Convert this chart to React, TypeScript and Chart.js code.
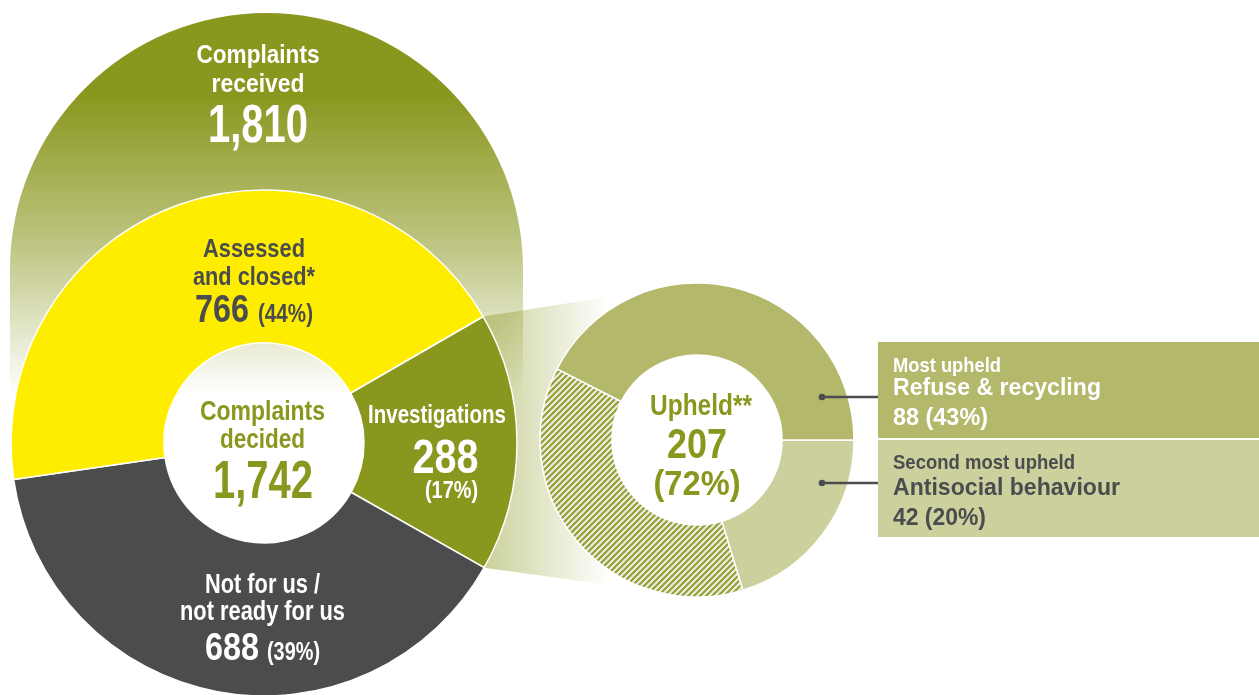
import React, { useEffect, useRef } from "react";
import { Chart, registerables } from "chart.js";
Chart.register(...registerables);

const W = 1259;
const H = 695;

// ---- data ----
const receivedTotal = 1810;
const decidedLabels = ["Investigations", "Not for us / not ready for us", "Assessed and closed*"];
const decidedValues = [288, 688, 766];
const decidedColors = ["#8A971E", "#4B4C4E", "#FFED00"];

const upheldLabels = ["Antisocial behaviour", "Other upheld", "Refuse & recycling"];
const upheldValues = [42, 77, 88];

const OLIVE = "#8A971E";
const DARK = "#4B4C4E";
const WHITE = "#FFFFFF";
const BOX1 = "#B3B86B";
const BOX2 = "#CCD09C";

const BIG = { cx: 264, cy: 443, r: 253, cut: 100 };
const SMALL = { cx: 697, cy: 440, r: 157, cut: 85 };

const sum = (a: number[]) => a.reduce((s, v) => s + v, 0);
const fmt = (n: number) => n.toLocaleString("en-GB");
const pct = (v: number, t: number) => Math.round((v / t) * 100);

const FONT = '"Liberation Sans", Arial, sans-serif';

function fitText(
  ctx: CanvasRenderingContext2D,
  s: string,
  x: number,
  y: number,
  cap: number,
  width: number,
  color: string,
  align: "left" | "center" = "center"
) {
  const size = cap / 0.716;
  ctx.save();
  ctx.font = `bold ${size}px ${FONT}`;
  ctx.textAlign = "left";
  ctx.textBaseline = "alphabetic";
  const w = ctx.measureText(s).width;
  const sx = width / w;
  const left = align === "center" ? x - width / 2 : x;
  ctx.translate(left, y);
  ctx.scale(sx, 1);
  ctx.fillStyle = color;
  ctx.fillText(s, 0, 0);
  ctx.restore();
}

function makeHatch(): CanvasPattern | string {
  const c = document.createElement("canvas");
  const s = 6;
  c.width = s;
  c.height = s;
  const x = c.getContext("2d");
  if (!x) return "#ddd";
  x.fillStyle = "#EDEEE8";
  x.fillRect(0, 0, s, s);
  x.strokeStyle = "#95A030";
  x.lineWidth = 2.2;
  x.beginPath();
  x.moveTo(-1, s + 1);
  x.lineTo(s + 1, -1);
  x.moveTo(-1, 1);
  x.lineTo(1, -1);
  x.moveTo(s - 1, s + 1);
  x.lineTo(s + 1, s - 1);
  x.stroke();
  const p = x.createPattern(c, "repeat");
  return p || "#ddd";
}

export default function App() {
  const c1 = useRef<HTMLCanvasElement>(null);
  const c2 = useRef<HTMLCanvasElement>(null);

  useEffect(() => {
    document.body.style.margin = "0";
    const decidedTotal = sum(decidedValues);
    const upheldTotal = sum(upheldValues);

    const bigPlugin = {
      id: "bigDecor",
      beforeDatasetsDraw(chart: any) {
        const ctx: CanvasRenderingContext2D = chart.ctx;
        const arc: any = chart.getDatasetMeta(0).data[0];
        ctx.save();
        // Complaints received backdrop
        const L = 10, R = 523, top = 13;
        const rx = (R - L) / 2;
        const cxs = (L + R) / 2;
        const cys = top + rx;
        ctx.beginPath();
        ctx.moveTo(L, H);
        ctx.lineTo(L, cys);
        ctx.arc(cxs, cys, rx, Math.PI, 2 * Math.PI);
        ctx.lineTo(R, H);
        ctx.closePath();
        const g = ctx.createLinearGradient(0, 95, 0, 395);
        g.addColorStop(0, "rgb(138,151,30)");
        g.addColorStop(0.5, "rgb(190,197,130)");
        g.addColorStop(1, "rgb(255,255,255)");
        ctx.fillStyle = g;
        ctx.fill();
        // connector to upheld doughnut
        const p1 = [arc.x + arc.outerRadius * Math.cos(arc.startAngle), arc.y + arc.outerRadius * Math.sin(arc.startAngle)];
        const p2 = [arc.x + arc.outerRadius * Math.cos(arc.endAngle), arc.y + arc.outerRadius * Math.sin(arc.endAngle)];
        ctx.beginPath();
        ctx.moveTo(p1[0], p1[1]);
        ctx.lineTo(SMALL.cx, SMALL.cy - SMALL.r);
        ctx.lineTo(SMALL.cx, SMALL.cy + SMALL.r);
        ctx.lineTo(p2[0], p2[1]);
        ctx.closePath();
        const g2 = ctx.createLinearGradient(p1[0], 0, 610, 0);
        g2.addColorStop(0, "rgba(138,151,30,0.45)");
        g2.addColorStop(1, "rgba(138,151,30,0)");
        ctx.fillStyle = g2;
        ctx.fill();
        ctx.restore();
      },
      afterDatasetsDraw(chart: any) {
        const ctx: CanvasRenderingContext2D = chart.ctx;
        // received
        fitText(ctx, "Complaints", 258, 63, 18.3, 123, WHITE);
        fitText(ctx, "received", 258, 92, 18.3, 93, WHITE);
        fitText(ctx, fmt(receivedTotal), 258, 142, 38.3, 100, WHITE);
        // assessed and closed
        fitText(ctx, "Assessed", 254, 257, 18.3, 102, DARK);
        fitText(ctx, "and closed*", 254, 285, 18.3, 122, DARK);
        fitText(ctx, String(decidedValues[2]), 195, 322, 28.3, 54, DARK, "left");
        fitText(ctx, `(${pct(decidedValues[2], decidedTotal)}%)`, 258, 322, 19, 55, DARK, "left");
        // centre
        fitText(ctx, "Complaints", 262.5, 419.5, 19.3, 125, OLIVE);
        fitText(ctx, "decided", 262.5, 448, 19.3, 85, OLIVE);
        fitText(ctx, fmt(decidedTotal), 263, 498, 38.3, 100, OLIVE);
        // investigations
        fitText(ctx, "Investigations", 437, 423, 18.3, 138, WHITE);
        fitText(ctx, String(decidedValues[0]), 445.5, 473, 34.3, 66, WHITE);
        fitText(ctx, `(${pct(decidedValues[0], decidedTotal)}%)`, 451.5, 498, 17, 53, WHITE);
        // not for us
        fitText(ctx, "Not for us /", 262.5, 593, 19.3, 115, WHITE);
        fitText(ctx, "not ready for us", 262.5, 620, 19.3, 165, WHITE);
        fitText(ctx, String(decidedValues[1]), 205, 659.5, 27.7, 54, WHITE, "left");
        fitText(ctx, `(${pct(decidedValues[1], decidedTotal)}%)`, 267, 659.5, 19, 53, WHITE, "left");
      },
    };

    const chart1 = new Chart(c1.current as HTMLCanvasElement, {
      type: "doughnut",
      data: {
        labels: decidedLabels,
        datasets: [
          {
            data: decidedValues,
            backgroundColor: decidedColors,
            borderColor: WHITE,
            borderWidth: 1.5,
            radius: BIG.r,
            cutout: `${(BIG.cut / BIG.r) * 100}%`,
            clip: false,
          } as any,
        ],
      },
      options: {
        animation: false,
        responsive: false,
        devicePixelRatio: 1,
        rotation: 60,
        events: [],
        layout: { padding: { top: 2 * BIG.cy - H, bottom: 0, left: 0, right: W - 2 * BIG.cx } },
        plugins: { legend: { display: false }, tooltip: { enabled: false } },
      } as any,
      plugins: [bigPlugin],
    });

    const smallPlugin = {
      id: "smallDecor",
      afterDatasetsDraw(chart: any) {
        const ctx: CanvasRenderingContext2D = chart.ctx;
        fitText(ctx, "Upheld**", 701, 415, 21.7, 102, OLIVE);
        fitText(ctx, String(upheldTotal), 697, 458.3, 30, 60, OLIVE);
        fitText(ctx, `(${pct(upheldTotal, decidedValues[0])}%)`, 697, 495, 25, 87, OLIVE);

        // boxes
        const bx = 878;
        ctx.save();
        ctx.fillStyle = BOX1;
        ctx.fillRect(bx, 342, W - bx, 96);
        ctx.fillStyle = BOX2;
        ctx.fillRect(bx, 440, W - bx, 97);
        // connectors
        ctx.strokeStyle = DARK;
        ctx.fillStyle = DARK;
        ctx.lineWidth = 2.5;
        const dots = [
          [SMALL.cx + 125, SMALL.cy - 43],
          [SMALL.cx + 125, SMALL.cy + 43],
        ];
        dots.forEach(([dx, dy]) => {
          ctx.beginPath();
          ctx.moveTo(dx, dy);
          ctx.lineTo(bx, dy);
          ctx.stroke();
          ctx.beginPath();
          ctx.arc(dx, dy, 3.3, 0, Math.PI * 2);
          ctx.fill();
        });
        ctx.restore();

        fitText(ctx, "Most upheld", 893, 371.7, 15, 108, WHITE, "left");
        fitText(ctx, upheldLabels[2], 893, 395, 17.5, 208, WHITE, "left");
        fitText(ctx, `${upheldValues[2]} (${pct(upheldValues[2], upheldTotal)}%)`, 893, 424.5, 17.5, 95, WHITE, "left");
        fitText(ctx, "Second most upheld", 893, 469, 15, 182, DARK, "left");
        fitText(ctx, upheldLabels[0], 893, 495, 17.5, 227, DARK, "left");
        fitText(ctx, `${upheldValues[0]} (${pct(upheldValues[0], upheldTotal)}%)`, 893, 525, 17.5, 93, DARK, "left");
      },
    };

    const chart2 = new Chart(c2.current as HTMLCanvasElement, {
      type: "doughnut",
      data: {
        labels: upheldLabels,
        datasets: [
          {
            data: upheldValues,
            backgroundColor: [BOX2, makeHatch(), BOX1],
            borderColor: WHITE,
            borderWidth: 1.5,
            radius: SMALL.r,
            cutout: `${(SMALL.cut / SMALL.r) * 100}%`,
            clip: false,
          } as any,
        ],
      },
      options: {
        animation: false,
        responsive: false,
        devicePixelRatio: 1,
        rotation: 90,
        events: [],
        layout: {
          padding: {
            top: SMALL.cy - (H - SMALL.cy),
            bottom: 0,
            left: SMALL.cx - 300,
            right: W - (SMALL.cx + 300),
          },
        },
        plugins: { legend: { display: false }, tooltip: { enabled: false } },
      } as any,
      plugins: [smallPlugin],
    });

    return () => {
      chart1.destroy();
      chart2.destroy();
    };
  }, []);

  return (
    <div style={{ position: "absolute", left: 0, top: 0, width: W, height: H, overflow: "hidden", background: "#fff" }}>
      <canvas ref={c1} width={W} height={H} style={{ position: "absolute", left: 0, top: 0, width: W, height: H }} />
      <canvas ref={c2} width={W} height={H} style={{ position: "absolute", left: 0, top: 0, width: W, height: H }} />
    </div>
  );
}
